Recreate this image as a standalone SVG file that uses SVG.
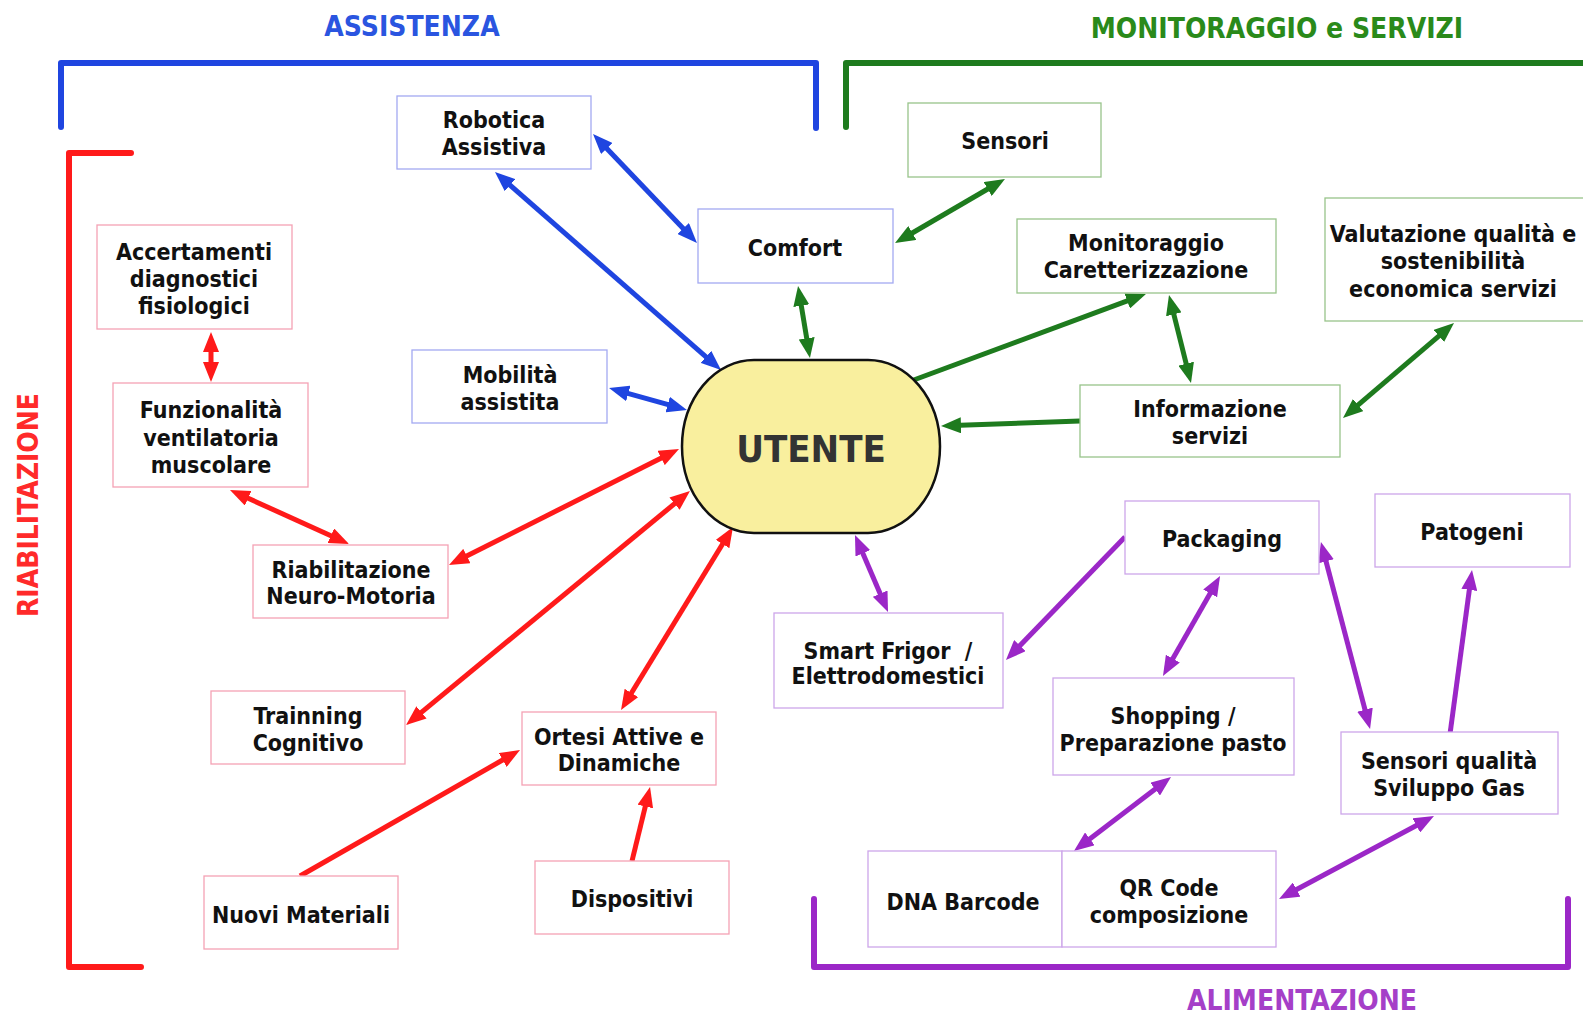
<svg xmlns="http://www.w3.org/2000/svg" width="1583" height="1018" viewBox="0 0 1583 1018">
  <style>
    text { font-family: "DejaVu Sans Condensed", "DejaVu Sans", sans-serif; font-weight: bold; font-stretch: condensed; }
    .lbl { font-size: 23px; fill: #111; text-anchor: middle; }
    .title { font-size: 28px; text-anchor: middle; }
    .box { fill: #fff; stroke-width: 1.3; }
    .b-blue { stroke: #a3a9f2; }
    .b-green { stroke: #98c48a; }
    .b-red { stroke: #f4a2b4; }
    .b-purple { stroke: #cda6ea; }
    .brk { fill: none; stroke-width: 6; stroke-linecap: round; stroke-linejoin: round; }
    .c { fill: none; stroke-width: 5; }
    .c-blue { stroke: #1f45e0; }
    .c-green { stroke: #1e7b1e; }
    .c-red { stroke: #ff1a1a; }
    .c-purple { stroke: #9b27c7; }
  </style>
  <defs>
    <marker id="ah-blue" viewBox="0 0 20 16" refX="8" refY="8" markerWidth="20" markerHeight="16" markerUnits="userSpaceOnUse" orient="auto-start-reverse">
      <path d="M0,0 L20,8 L0,16 z" fill="#1f45e0"/>
    </marker>
    <marker id="ah-green" viewBox="0 0 20 16" refX="8" refY="8" markerWidth="20" markerHeight="16" markerUnits="userSpaceOnUse" orient="auto-start-reverse">
      <path d="M0,0 L20,8 L0,16 z" fill="#1e7b1e"/>
    </marker>
    <marker id="ah-red" viewBox="0 0 20 16" refX="8" refY="8" markerWidth="20" markerHeight="16" markerUnits="userSpaceOnUse" orient="auto-start-reverse">
      <path d="M0,0 L20,8 L0,16 z" fill="#ff1a1a"/>
    </marker>
    <marker id="ah-purple" viewBox="0 0 20 16" refX="8" refY="8" markerWidth="20" markerHeight="16" markerUnits="userSpaceOnUse" orient="auto-start-reverse">
      <path d="M0,0 L20,8 L0,16 z" fill="#9b27c7"/>
    </marker>
  </defs>

  <rect x="0" y="0" width="1583" height="1018" fill="#fff"/>

  <!-- Area brackets and headings -->
  <g id="area-assistenza">
    <text class="title" x="412" y="36" fill="#2a55e0">ASSISTENZA</text>
    <path class="brk" d="M61,127 V63 H816 V128" stroke="#1f45e0"/>
  </g>
  <g id="area-monitoraggio">
    <text class="title" x="1277" y="38" fill="#2a8a1a">MONITORAGGIO e SERVIZI</text>
    <path class="brk" d="M846,127 V63 H1590" stroke="#1e7b1e"/>
  </g>
  <g id="area-riabilitazione">
    <text class="title" transform="translate(38,505) rotate(-90)" fill="#ff2a2a">RIABILITAZIONE</text>
    <path class="brk" d="M131,153 H69 V967 H141" stroke="#ff1a1a"/>
  </g>
  <g id="area-alimentazione">
    <text class="title" x="1302" y="1010" fill="#a53fc8">ALIMENTAZIONE</text>
    <path class="brk" d="M814,899 V967 H1568 V899" stroke="#9b27c7"/>
  </g>

  <!-- Connectors -->
  <g id="connectors">
    <line class="c c-blue" x1="601.3" y1="142.7" x2="688.7" y2="234.3" marker-start="url(#ah-blue)" marker-end="url(#ah-blue)"/>
    <line class="c c-blue" x1="504" y1="179.9" x2="712" y2="362.1" marker-start="url(#ah-blue)" marker-end="url(#ah-blue)"/>
    <line class="c c-blue" x1="620.6" y1="391.3" x2="675.4" y2="406.7" marker-start="url(#ah-blue)" marker-end="url(#ah-blue)"/>

    <line class="c c-green" x1="800" y1="297.8" x2="808" y2="346.2" marker-start="url(#ah-green)" marker-end="url(#ah-green)"/>
    <line class="c c-green" x1="994.6" y1="185" x2="905.4" y2="237" marker-start="url(#ah-green)" marker-end="url(#ah-green)"/>
    <line class="c c-green" x1="911" y1="381" x2="1134.7" y2="298.2" marker-end="url(#ah-green)"/>
    <line class="c c-green" x1="1171.9" y1="306.6" x2="1188.1" y2="371.4" marker-start="url(#ah-green)" marker-end="url(#ah-green)"/>
    <line class="c c-green" x1="1080" y1="421" x2="953" y2="425.6" marker-end="url(#ah-green)"/>
    <line class="c c-green" x1="1444.9" y1="330.8" x2="1352.1" y2="410.2" marker-start="url(#ah-green)" marker-end="url(#ah-green)"/>

    <line class="c c-red" x1="211" y1="344" x2="211" y2="370" marker-start="url(#ah-red)" marker-end="url(#ah-red)"/>
    <line class="c c-red" x1="240.9" y1="495" x2="338.1" y2="539" marker-start="url(#ah-red)" marker-end="url(#ah-red)"/>
    <line class="c c-red" x1="459.7" y1="559.6" x2="668.3" y2="454.4" marker-start="url(#ah-red)" marker-end="url(#ah-red)"/>
    <line class="c c-red" x1="415.3" y1="717.4" x2="680.7" y2="498.6" marker-start="url(#ah-red)" marker-end="url(#ah-red)"/>
    <line class="c c-red" x1="627.3" y1="699.8" x2="726.7" y2="537.2" marker-start="url(#ah-red)" marker-end="url(#ah-red)"/>
    <line class="c c-red" x1="300" y1="876" x2="509.6" y2="756" marker-end="url(#ah-red)"/>
    <line class="c c-red" x1="632" y1="861" x2="647.2" y2="798.7" marker-end="url(#ah-red)"/>

    <line class="c c-purple" x1="859.7" y1="546" x2="883.3" y2="601" marker-start="url(#ah-purple)" marker-end="url(#ah-purple)"/>
    <line class="c c-purple" x1="1125" y1="537" x2="1014.3" y2="651.4" marker-end="url(#ah-purple)"/>
    <line class="c c-purple" x1="1214.1" y1="586.4" x2="1168.9" y2="665.6" marker-start="url(#ah-purple)" marker-end="url(#ah-purple)"/>
    <line class="c c-purple" x1="1324" y1="553.6" x2="1367" y2="717.4" marker-start="url(#ah-purple)" marker-end="url(#ah-purple)"/>
    <line class="c c-purple" x1="1450" y1="734" x2="1470.4" y2="581.9" marker-end="url(#ah-purple)"/>
    <line class="c c-purple" x1="1161.5" y1="784.3" x2="1083.5" y2="843.7" marker-start="url(#ah-purple)" marker-end="url(#ah-purple)"/>
    <line class="c c-purple" x1="1423.4" y1="821.7" x2="1289.6" y2="893.3" marker-start="url(#ah-purple)" marker-end="url(#ah-purple)"/>
  </g>

  <!-- Central node -->
  <g id="utente">
    <rect x="682" y="360" width="258" height="173" rx="72" ry="86.5" fill="#f9ef9e" stroke="#111" stroke-width="2.5"/>
    <text x="811" y="462" font-size="38" fill="#333" text-anchor="middle">UTENTE</text>
  </g>

  <!-- Assistenza nodes -->
  <g id="robotica-assistiva">
    <rect class="box b-blue" x="397" y="96" width="194" height="73"/>
    <text class="lbl" x="494" y="128">Robotica</text>
    <text class="lbl" x="494" y="155">Assistiva</text>
  </g>
  <g id="comfort">
    <rect class="box b-blue" x="698" y="209" width="195" height="74"/>
    <text class="lbl" x="795" y="256">Comfort</text>
  </g>
  <g id="mobilita-assistita">
    <rect class="box b-blue" x="412" y="350" width="195" height="73"/>
    <text class="lbl" x="510" y="383">Mobilità</text>
    <text class="lbl" x="510" y="410">assistita</text>
  </g>

  <!-- Monitoraggio e servizi nodes -->
  <g id="sensori">
    <rect class="box b-green" x="908" y="103" width="193" height="74"/>
    <text class="lbl" x="1005" y="149">Sensori</text>
  </g>
  <g id="monitoraggio">
    <rect class="box b-green" x="1017" y="219" width="259" height="74"/>
    <text class="lbl" x="1146" y="251">Monitoraggio</text>
    <text class="lbl" x="1146" y="278">Caretterizzazione</text>
  </g>
  <g id="valutazione">
    <rect class="box b-green" x="1325" y="198" width="262" height="123"/>
    <text class="lbl" x="1453" y="242">Valutazione qualità e</text>
    <text class="lbl" x="1453" y="269">sostenibilità</text>
    <text class="lbl" x="1453" y="297">economica servizi</text>
  </g>
  <g id="informazione-servizi">
    <rect class="box b-green" x="1080" y="385" width="260" height="72"/>
    <text class="lbl" x="1210" y="417">Informazione</text>
    <text class="lbl" x="1210" y="444">servizi</text>
  </g>

  <!-- Riabilitazione nodes -->
  <g id="accertamenti">
    <rect class="box b-red" x="97" y="225" width="195" height="104"/>
    <text class="lbl" x="194" y="260">Accertamenti</text>
    <text class="lbl" x="194" y="287">diagnostici</text>
    <text class="lbl" x="194" y="314">fisiologici</text>
  </g>
  <g id="funzionalita">
    <rect class="box b-red" x="113" y="383" width="195" height="104"/>
    <text class="lbl" x="211" y="418">Funzionalità</text>
    <text class="lbl" x="211" y="446">ventilatoria</text>
    <text class="lbl" x="211" y="473">muscolare</text>
  </g>
  <g id="riabilitazione-neuro">
    <rect class="box b-red" x="253" y="545" width="195" height="73"/>
    <text class="lbl" x="351" y="578">Riabilitazione</text>
    <text class="lbl" x="351" y="604">Neuro-Motoria</text>
  </g>
  <g id="trainning-cognitivo">
    <rect class="box b-red" x="211" y="691" width="194" height="73"/>
    <text class="lbl" x="308" y="724">Trainning</text>
    <text class="lbl" x="308" y="751">Cognitivo</text>
  </g>
  <g id="ortesi">
    <rect class="box b-red" x="522" y="712" width="194" height="73"/>
    <text class="lbl" x="619" y="745">Ortesi Attive e</text>
    <text class="lbl" x="619" y="771">Dinamiche</text>
  </g>
  <g id="nuovi-materiali">
    <rect class="box b-red" x="204" y="876" width="194" height="73"/>
    <text class="lbl" x="301" y="923">Nuovi Materiali</text>
  </g>
  <g id="dispositivi">
    <rect class="box b-red" x="535" y="861" width="194" height="73"/>
    <text class="lbl" x="632" y="907">Dispositivi</text>
  </g>

  <!-- Alimentazione nodes -->
  <g id="smart-frigor">
    <rect class="box b-purple" x="774" y="613" width="229" height="95"/>
    <text class="lbl" x="888" y="659" xml:space="preserve">Smart Frigor  /</text>
    <text class="lbl" x="888" y="684">Elettrodomestici</text>
  </g>
  <g id="packaging">
    <rect class="box b-purple" x="1125" y="501" width="194" height="73"/>
    <text class="lbl" x="1222" y="547">Packaging</text>
  </g>
  <g id="patogeni">
    <rect class="box b-purple" x="1375" y="494" width="195" height="73"/>
    <text class="lbl" x="1472" y="540">Patogeni</text>
  </g>
  <g id="shopping">
    <rect class="box b-purple" x="1053" y="678" width="241" height="97"/>
    <text class="lbl" x="1173" y="724">Shopping /</text>
    <text class="lbl" x="1173" y="751">Preparazione pasto</text>
  </g>
  <g id="sensori-qualita">
    <rect class="box b-purple" x="1341" y="732" width="217" height="82"/>
    <text class="lbl" x="1449" y="769">Sensori qualità</text>
    <text class="lbl" x="1449" y="796">Sviluppo Gas</text>
  </g>
  <g id="dna-barcode">
    <rect class="box b-purple" x="868" y="851" width="194" height="96"/>
    <text class="lbl" x="963" y="910">DNA Barcode</text>
  </g>
  <g id="qr-code">
    <rect class="box b-purple" x="1062" y="851" width="214" height="96"/>
    <text class="lbl" x="1169" y="896">QR Code</text>
    <text class="lbl" x="1169" y="923">composizione</text>
  </g>
</svg>
